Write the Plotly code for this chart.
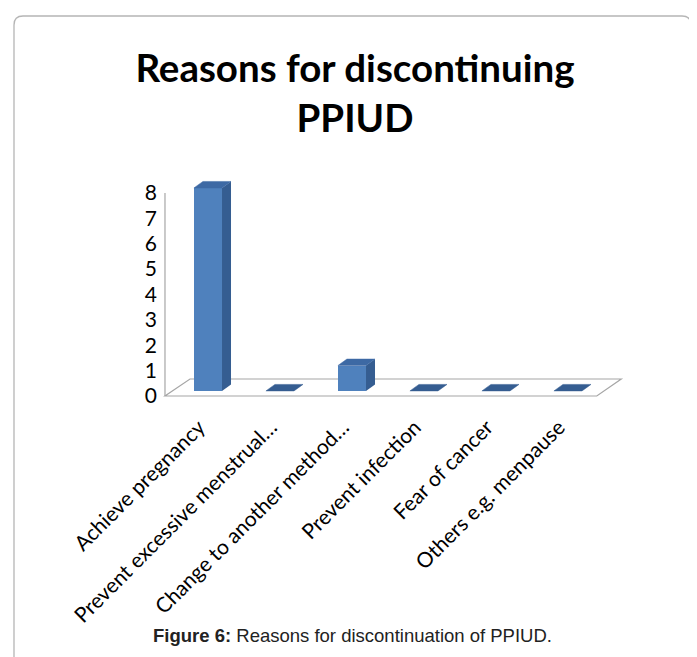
import plotly.graph_objects as go

# ---- data ----
categories = ["Achieve pregnancy", "Prevent excessive menstrual…", "Change to another method…",
              "Prevent infection", "Fear of cancer", "Others e.g. menpause"]
values = [8, 0, 1, 0, 0, 0]
y_ticks = [0, 1, 2, 3, 4, 5, 6, 7, 8]

# ---- styling / geometry constants ----
OFF = 8  # page body margin
W, H = 689, 649
L, R, T, B = 150, 71, 168, 257
XR = [-0.694, 5.806]
YR = [-0.158, 8.67]
BAR_W = 0.39
BASE = 0.2
DX, DY = 0.125, 0.256
FRONT = "#4f81bd"
SIDE = "#355d91"
TOP = "#3d69a4"
GRID = "#a6a6a6"
FONT = "Lato"

xpos = list(range(len(categories)))

fig = go.Figure()

# floor and wall outline (behind the bars)
floor_x = [-0.597, 5.40, 5.74, -0.25]
floor_y = [0, 0, 0.67, 0.67]
floor_path = "M " + " L ".join(f"{a},{b}" for a, b in zip(floor_x, floor_y)) + " Z"
fig.add_shape(type="path", path=floor_path, xref="x", yref="y", layer="below",
              line=dict(color=GRID, width=1.2))
fig.add_shape(type="line", x0=-0.597, x1=-0.597, y0=0, y1=max(y_ticks), xref="x", yref="y",
              layer="below", line=dict(color=GRID, width=1.2))

# front faces
fig.add_trace(go.Bar(x=xpos, y=values, base=[BASE] * len(values), width=BAR_W,
                     marker=dict(color=FRONT, line=dict(width=0)), showlegend=False,
                     hovertext=categories))

# side and top faces
for x, v in zip(xpos, values):
    xl, xr = x - BAR_W / 2, x + BAR_W / 2
    top = v + BASE
    if v > 0:
        fig.add_trace(go.Scatter(
            x=[xr, xr + DX, xr + DX, xr, xr],
            y=[BASE, BASE + DY, top + DY, top, BASE],
            fill="toself", fillcolor=SIDE, mode="lines", line=dict(width=0, color=SIDE),
            hoverinfo="skip", showlegend=False))
    fig.add_trace(go.Scatter(
        x=[xl, xr, xr + DX, xl + DX, xl],
        y=[top, top, top + DY, top + DY, top],
        fill="toself", fillcolor=TOP if v > 0 else SIDE, mode="lines",
        line=dict(width=0.5, color=TOP if v > 0 else SIDE),
        hoverinfo="skip", showlegend=False))

pw = W - L - R
ph = H - T - B


def page2paper(px, py):
    fx, fy = px - OFF, py - OFF
    return (fx - L) / pw, (H - B - fy) / ph


# outer rounded border
x0, y0 = page2paper(14, 16)
x1, y1 = page2paper(691, 700)
rx, ry = 9 / pw, 9 / ph
path = (f"M {x0},{y1} L {x0},{y0 - ry} Q {x0},{y0} {x0 + rx},{y0} "
        f"L {x1 - rx},{y0} Q {x1},{y0} {x1},{y0 - ry} L {x1},{y1}")
fig.add_shape(type="path", path=path, xref="paper", yref="paper",
              line=dict(color="#b5b5b5", width=1.3))

cx, cy = page2paper(352, 635)
fig.add_annotation(x=cx, y=cy, xref="paper", yref="paper", showarrow=False,
                   text="<b>Figure 6:</b> Reasons for discontinuation of PPIUD.",
                   font=dict(family="Liberation Sans", size=18.5, color="#222222"),
                   xanchor="center", yanchor="middle")

fig.update_layout(
    width=W, height=H,
    margin=dict(l=L, r=R, t=T, b=B),
    paper_bgcolor="white", plot_bgcolor="white",
    title=dict(text="<b>Reasons for discontinuing<br>PPIUD</b>",
               x=347 / W, xanchor="center", y=1 - 74 / H, yanchor="middle",
               font=dict(family=FONT, size=38.5, color="black")),
    bargap=0,
    xaxis=dict(range=XR, tickmode="array", tickvals=xpos, ticktext=categories,
               tickangle=-45, showgrid=False, zeroline=False, showline=False,
               ticks="", ticklabelstandoff=10, ticklabelshift=-9,
               tickfont=dict(family=FONT, size=21, color="black")),
    yaxis=dict(range=YR, tickmode="array", tickvals=y_ticks,
               showgrid=False, zeroline=False, showline=False, ticks="",
               tickfont=dict(family=FONT, size=21, color="black")),
)

fig.write_html("out.html")
